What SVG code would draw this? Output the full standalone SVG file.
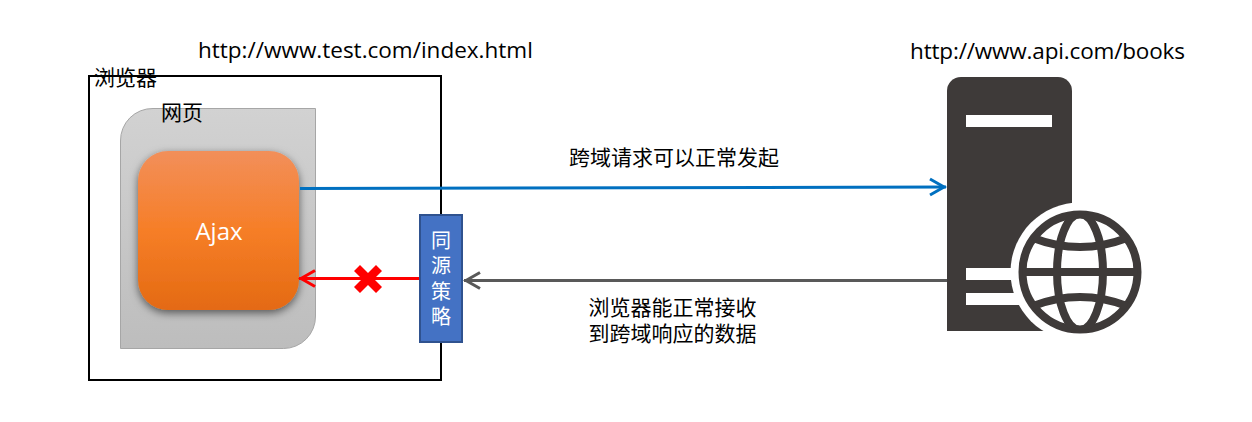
<svg xmlns="http://www.w3.org/2000/svg" width="1252" height="422" viewBox="0 0 1252 422">
<style>
text{font-family:"Liberation Sans","Noto Sans CJK SC",sans-serif;font-size:21px;fill:#000}
.cjk{font-family:"Noto Sans CJK SC",sans-serif}
.url{font-family:"Open Sans","Noto Sans",sans-serif;font-size:22.500px}
.w{fill:#fff}
.g{fill:none;stroke:#3e3a39;stroke-width:8}
</style>
<defs>
<linearGradient id="page" x1="0" y1="0" x2="0" y2="1"><stop offset="0" stop-color="#d2d2d2"/><stop offset="1" stop-color="#bdbdbd"/></linearGradient>
<linearGradient id="orange" x1="0" y1="0" x2="0" y2="1"><stop offset="0" stop-color="#f28f5a"/><stop offset=".5" stop-color="#f67e27"/><stop offset="1" stop-color="#e46a12"/></linearGradient>
<filter id="sh" x="-20%" y="-20%" width="140%" height="140%"><feDropShadow dx="0" dy="3" stdDeviation="4" flood-color="#000" flood-opacity=".55"/></filter>
<marker id="aB" markerUnits="userSpaceOnUse" markerWidth="20" markerHeight="20" refX="18" refY="10" orient="auto"><path d="M2 2L16 10L2 18" fill="none" stroke="#0070c0" stroke-width="3"/></marker>
<marker id="aR" markerUnits="userSpaceOnUse" markerWidth="20" markerHeight="20" refX="18" refY="10" orient="auto"><path d="M2 2L16 10L2 18" fill="none" stroke="#f00" stroke-width="3"/></marker>
<marker id="aG" markerUnits="userSpaceOnUse" markerWidth="20" markerHeight="20" refX="18" refY="10" orient="auto"><path d="M2 2L16 10L2 18" fill="none" stroke="#595959" stroke-width="3"/></marker>
<clipPath id="gc"><circle cx="1080" cy="272" r="58"/></clipPath>
</defs>
<text class="url" x="198" y="58">http://www.test.com/index.html</text>
<text class="url" x="910" y="59" style="letter-spacing:-.17px">http://www.api.com/books</text>
<g id="browser"><rect x="89" y="76" width="352" height="304" fill="#fff" stroke="#000" stroke-width="2"/><text class="cjk" x="94" y="85">浏览器</text></g>
<g id="webpage"><path d="M153 108.500H315.500V316A32 32 0 0 1 283.500 348.500H120.500V141A32 32 0 0 1 153 108.500Z" fill="url(#page)" stroke="#a6a6a6"/><text class="cjk" x="161" y="120">网页</text></g>
<g id="ajax"><rect x="138" y="151" width="161" height="159" rx="30" fill="url(#orange)" filter="url(#sh)"/><text class="w" x="219" y="240" text-anchor="middle" style="font-family:'Open Sans',sans-serif;font-size:24px">Ajax</text></g>
<g id="connectors" fill="none" stroke-width="3">
<path d="M300 188.500L946 187" stroke="#0070c0" marker-end="url(#aB)"/>
<path d="M420 278.500H299" stroke="#f00" marker-end="url(#aR)"/>
<path d="M947 280.500H464" stroke="#595959" marker-end="url(#aG)"/>
</g>
<g id="cross"><path d="M354 271L360 265L368 273L376 265L382 271L374 279L382 287L376 293L368 285L360 293L354 287L362 279Z" fill="#f00"/></g>
<g id="policy"><rect x="420" y="215" width="42" height="127" fill="#4472c4" stroke="#2f528f" stroke-width="2"/>
<text class="w cjk" x="441" y="230" style="writing-mode:vertical-rl;letter-spacing:5.500px;font-size:20px" text-anchor="start">同源策略</text></g>
<g id="server">
<path d="M947 331V91A14 14 0 0 1 961 77H1058A14 14 0 0 1 1072 91V331Z" fill="#3e3a39"/>
<rect x="966" y="115" width="86" height="12" fill="#fff"/>
<rect x="966" y="268" width="60" height="12" fill="#fff"/>
<rect x="966" y="293" width="60" height="12" fill="#fff"/>
<circle cx="1080" cy="272" r="69.500" fill="#fff"/>
<circle cx="1080" cy="272" r="57.500" class="g"/>
<g clip-path="url(#gc)"><ellipse cx="1080" cy="272" rx="23" ry="58" class="g"/><path d="M1020 272H1140" class="g"/><path d="M1033 238Q1080 256 1127 238M1033 306Q1080 288 1127 306" class="g"/></g>
</g>
<text id="label-req" class="cjk" x="674" y="165" text-anchor="middle">跨域请求可以正常发起</text>
<text id="label-res" class="cjk" text-anchor="middle"><tspan x="672.500" y="315">浏览器能正常接收</tspan><tspan x="672.500" y="341">到跨域响应的数据</tspan></text>
</svg>
